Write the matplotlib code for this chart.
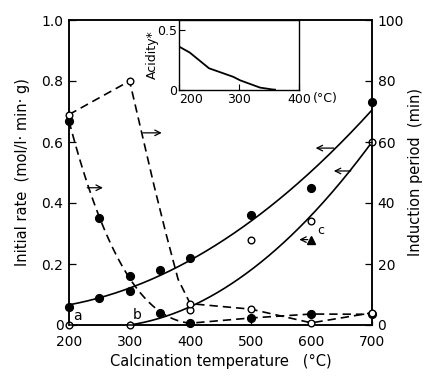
import numpy as np
import matplotlib
matplotlib.use("Agg")
import matplotlib.pyplot as plt

plt.rcParams['font.family'] = ['DejaVu Sans']

# ---- data ----
temps = [200, 250, 300, 350, 400, 500, 600, 700]
rate_filled = [0.06, 0.09, 0.11, 0.18, 0.22, 0.36, 0.45, 0.73]

rate_open_t = [200, 300, 400, 500, 600, 700]
rate_open = [0.0, 0.0, 0.05, 0.28, 0.34, 0.60]
curve_b_t = [300, 400, 500, 600, 700]
curve_b = [0.0, 0.06, 0.18, 0.36, 0.60]

induct_filled_t = [200, 250, 300, 350, 400, 500, 600, 700]
induct_filled = [67, 35, 16, 4, 0.7, 2.3, 3.6, 3.5]

induct_open_t = [200, 300, 400, 500, 600, 700]
induct_open = [69, 80, 7, 5.2, 0.7, 4]
# traced path of the steep dashed line (open circles) between 300 and 400
steep_t = [300, 320, 340, 360, 380, 400]
steep_v = [80, 63, 46, 30, 15, 7]

point_c = (600, 0.28)

acid_t = [200, 218, 250, 290, 302, 335, 355, 360]
acid_v = [0.36, 0.31, 0.18, 0.11, 0.08, 0.02, 0.005, 0.003]

W, H = 430, 376
fig = plt.figure(figsize=(W / 100, H / 100), dpi=100)
L, R, B, T = 69 / W, 372 / W, 1 - 325 / H, 1 - 20 / H
ax = fig.add_axes([L, B, R - L, T - B])
ax2 = ax.twinx()

fs = 10
ax.set_xlim(200, 700)
ax.set_ylim(0, 1.0)
ax2.set_ylim(0, 100)
ax.set_xticks([200, 300, 400, 500, 600, 700])
ax.set_yticks([0, 0.2, 0.4, 0.6, 0.8, 1.0])
ax.set_yticklabels(['0', '0.2', '0.4', '0.6', '0.8', '1.0'])
ax2.set_yticks([0, 20, 40, 60, 80, 100])
for a in (ax, ax2):
    a.tick_params(direction='in', length=5, width=0.9, labelsize=fs, pad=4)
    for s in a.spines.values():
        s.set_linewidth(1.1)
ax.tick_params(axis='x', length=3, pad=7)
ax.set_xlabel('Calcination temperature   (°C)', fontsize=fs + 0.5, labelpad=4)
ax.set_ylabel('Initial rate  (mol/l· min· g)', fontsize=fs + 0.5, labelpad=8)
ax2.set_ylabel('Induction period  (min)', fontsize=fs + 0.5, labelpad=3)

lw = 1.2
# filled rate solid curve
p = np.polyfit(temps, rate_filled, 2)
tt = np.linspace(200, 700, 200)
ax.plot(tt, np.polyval(p, tt), color='black', lw=lw, zorder=2)
# open rate solid curve
p2 = np.polyfit(curve_b_t, curve_b, 2)
tt2 = np.linspace(300, 700, 200)
ax.plot(tt2, np.polyval(p2, tt2), color='black', lw=lw, zorder=2)

# dashed induction (filled)
pf = np.polyfit(induct_filled_t[:5], induct_filled[:5], 3)
tf = np.linspace(200, 400, 100)
xf = list(tf) + induct_filled_t[5:]
yf = list(np.polyval(pf, tf)) + induct_filled[5:]
ax2.plot(xf, yf, color='black', lw=lw, ls=(0, (5, 3)), zorder=2)

# dashed induction (open)
xo = [200] + steep_t + induct_open_t[3:]
yo = [69] + steep_v + induct_open[3:]
ax2.plot(xo, yo, color='black', lw=lw, ls=(0, (5, 3)), zorder=2)

ms = 5.6
ax.plot(temps, rate_filled, 'o', color='black', ms=ms, zorder=5, clip_on=False)
ax.plot(rate_open_t, rate_open, 'o', mfc='white', mec='black', mew=1.0, ms=ms - 0.8, zorder=5, clip_on=False)
ax2.plot(induct_filled_t, induct_filled, 'o', color='black', ms=ms, zorder=5, clip_on=False)
ax2.plot(induct_open_t, induct_open, 'o', mfc='white', mec='black', mew=1.0, ms=ms - 0.8, zorder=6, clip_on=False)
ax.plot([point_c[0]], [point_c[1]], '^', color='black', ms=5.5, zorder=5)

# letters
ax.text(206, 0.005, 'a', fontsize=fs, va='bottom', ha='left')
ax.text(305, 0.01, 'b', fontsize=fs, va='bottom', ha='left')
ax.text(610, 0.29, 'c', fontsize=fs - 1, va='bottom', ha='left')

arrow = dict(arrowstyle='->', lw=0.9, color='black', shrinkA=0, shrinkB=0)
ax2.annotate('', xy=(353, 63), xytext=(322, 63), arrowprops=arrow)
ax2.annotate('', xy=(256, 45), xytext=(230, 45), arrowprops=arrow)
ax.annotate('', xy=(607, 0.58), xytext=(637, 0.58), arrowprops=arrow)
ax.annotate('', xy=(637, 0.505), xytext=(665, 0.505), arrowprops=arrow)
ax.annotate('', xy=(580, 0.28), xytext=(594, 0.28), arrowprops=arrow)

# inset
iL, iR, iB, iT = 179 / W, 299 / W, 1 - 90 / H, 1 - 20 / H
ins = fig.add_axes([iL, iB, iR - iL, iT - iB])
ins.plot(acid_t, acid_v, color='black', lw=1.3)
ins.set_xlim(200, 400)
ins.set_ylim(0, 0.58)
ins.set_xticks([200, 300, 400])
ins.set_xticklabels(['200', '300', '400'])
ins.set_yticks([0, 0.5])
ins.set_yticklabels(['0', '0.5'])
ins.tick_params(direction='in', length=4, labelsize=fs - 1, pad=2)
ins.tick_params(axis='y', pad=1)
ins.get_xticklabels()[0].set_ha('left')
for s in ins.spines.values():
    s.set_linewidth(1.0)
ins.set_ylabel('Acidity*', fontsize=fs - 1, labelpad=-1)
ins.text(1.0 + 14 / 120, -0.03, '(°C)', transform=ins.transAxes, fontsize=fs - 1, va='top', ha='left')

fig.savefig('out.png', dpi=100)
